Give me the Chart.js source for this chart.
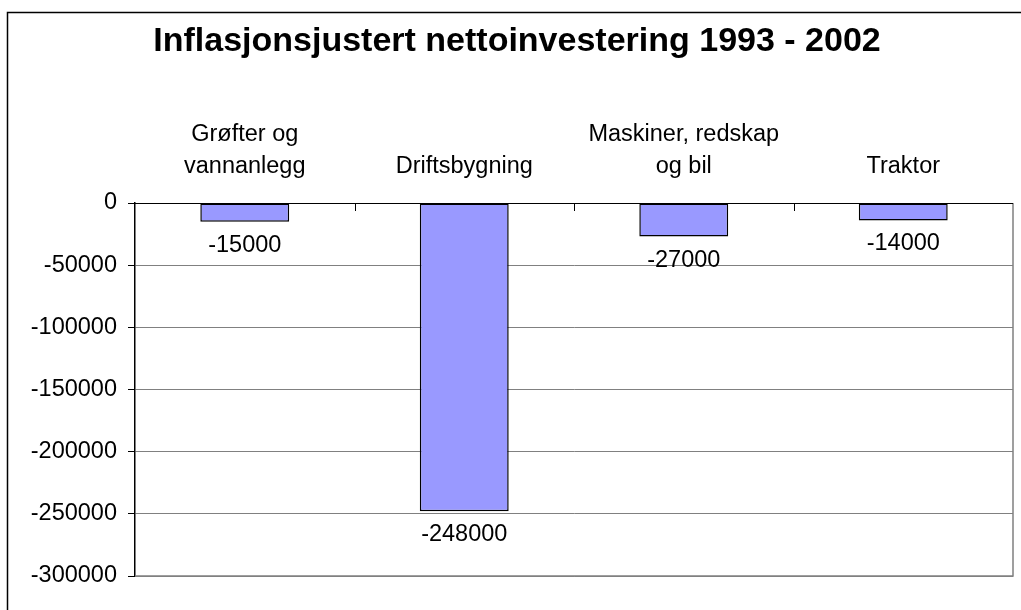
<!DOCTYPE html>
<html>
<head>
<meta charset="utf-8">
<script src="https://cdn.jsdelivr.net/npm/chart.js@4/dist/chart.umd.min.js"></script>
<style>
body { margin: 0; background: #fff; }
</style>
</head>
<body>
<canvas id="chart" width="1021" height="610"></canvas>
<script>
var categories = [["Grøfter og", "vannanlegg"], "Driftsbygning", ["Maskiner, redskap", "og bil"], "Traktor"];
var investments = [-15000, -248000, -27000, -14000];
var yTickValues = [0, -50000, -100000, -150000, -200000, -250000, -300000];
var titleText = "Inflasjonsjustert nettoinvestering 1993 - 2002";

var FONT = "'Liberation Sans', Arial, sans-serif";

// frame, plot border, category ticks and value labels
var extras = {
    id: 'extras',
    beforeDraw: function(chart) {
        var ctx = chart.ctx;
        ctx.save();
        ctx.fillStyle = '#fff';
        ctx.fillRect(0, 0, chart.width, chart.height);
        ctx.strokeStyle = '#000';
        ctx.lineWidth = 1.5;
        ctx.beginPath();
        ctx.moveTo(7.5, chart.height + 5);
        ctx.lineTo(7.5, 12.5);
        ctx.lineTo(chart.width + 5, 12.5);
        ctx.stroke();
        ctx.restore();
    },
    afterDraw: function(chart) {
        var ctx = chart.ctx;
        var a = chart.chartArea;
        var xs = chart.scales.x;
        ctx.save();
        // right and bottom border of plot area
        ctx.strokeStyle = '#808080';
        ctx.lineWidth = 1.5;
        ctx.beginPath();
        ctx.moveTo(a.left, a.bottom);
        ctx.lineTo(a.right, a.bottom);
        ctx.lineTo(a.right, a.top);
        ctx.stroke();
        // top axis line + category tick marks
        ctx.strokeStyle = '#000';
        ctx.lineWidth = 1;
        ctx.beginPath();
        ctx.moveTo(a.left, a.top + 0.5);
        ctx.lineTo(a.right, a.top + 0.5);
        for (var i = 0; i < categories.length - 1; i++) {
            var bx = Math.round((xs.getPixelForTick(i) + xs.getPixelForTick(i + 1)) / 2) + 0.5;
            ctx.moveTo(bx, a.top);
            ctx.lineTo(bx, a.top + 8);
        }
        ctx.stroke();
        // value labels under the bars
        ctx.fillStyle = '#000';
        ctx.font = '23.5px ' + FONT;
        ctx.textAlign = 'center';
        ctx.textBaseline = 'middle';
        chart.getDatasetMeta(0).data.forEach(function(bar, i) {
            ctx.fillText(String(investments[i]), bar.x, bar.y + 23.5);
        });
        ctx.restore();
    }
};

new Chart(document.getElementById('chart'), {
    type: 'bar',
    data: {
        labels: categories,
        datasets: [{
            data: investments,
            backgroundColor: '#9999FF',
            borderColor: '#000',
            borderWidth: 1.5,
            borderSkipped: false,
            barPercentage: 0.405,
            categoryPercentage: 1
        }]
    },
    options: {
        responsive: false,
        animation: false,
        layout: { padding: { top: 0, right: 8, bottom: 34, left: 21 } },
        plugins: {
            legend: { display: false },
            tooltip: { enabled: false },
            title: {
                display: true,
                text: titleText,
                color: '#000',
                font: { family: FONT, size: 34, weight: 'bold', lineHeight: 1.2 },
                padding: { top: 21, bottom: 0 }
            }
        },
        scales: {
            x: {
                position: 'top',
                grid: { display: false, drawTicks: false },
                border: { display: false },
                ticks: {
                    color: '#000',
                    padding: 20,
                    maxRotation: 0,
                    autoSkip: false,
                    font: { family: FONT, size: 23.5, lineHeight: 1.38 }
                },
                afterFit: function(scale) { scale.height = 141.2; }
            },
            y: {
                min: -300000,
                max: 0,
                afterBuildTicks: function(scale) {
                    scale.ticks = yTickValues.map(function(v) { return { value: v }; });
                },
                grid: {
                    color: '#808080',
                    lineWidth: 1,
                    tickLength: 7,
                    tickColor: '#000'
                },
                border: { display: true, color: '#000', width: 1.5 },
                ticks: {
                    color: '#000',
                    padding: 11,
                    font: { family: FONT, size: 23.5 },
                    callback: function(v) { return String(v); }
                },
                afterFit: function(scale) { scale.width = 114; }
            }
        }
    },
    plugins: [extras]
});
</script>
</body>
</html>
